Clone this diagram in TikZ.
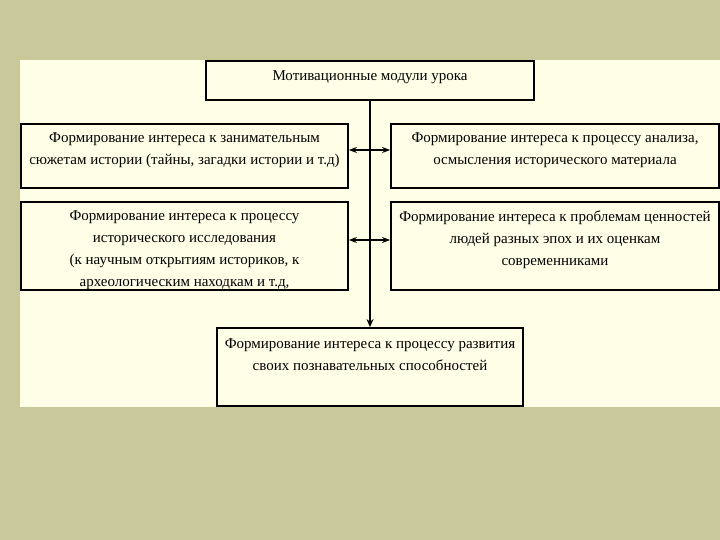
\documentclass[tikz,border=0pt]{standalone}
\usepackage{fontspec}
\setmainfont{Liberation Serif}
\usetikzlibrary{arrows.meta}
\definecolor{olive}{RGB}{200,200,155}
\definecolor{cream}{RGB}{255,255,232}
\begin{document}
\begin{tikzpicture}[x=1pt,y=-1pt,
  box/.style={draw=black,line width=1.8pt,fill=cream,inner sep=0pt},
  txt/.style={anchor=north,align=center,inner sep=0pt,font=\fontsize{15}{22}\selectfont},
  conn/.style={line width=1.6pt,-{Stealth[length=8pt,width=7pt]}},
  dconn/.style={line width=1.2pt,{Stealth[length=8pt,width=6pt]}-{Stealth[length=8pt,width=6pt]}}]
\fill[olive] (0,0) rectangle (720,540);
\useasboundingbox (0,0) rectangle (720,540);
\fill[cream] (20,60) rectangle (720,407);
% boxes
\node[box,minimum width=328pt,minimum height=39pt] (T) at (370,80.5) {};
\node[box,minimum width=327pt,minimum height=64pt] (L1) at (184.5,156) {};
\node[box,minimum width=328pt,minimum height=64pt] (R1) at (555,156) {};
\node[box,minimum width=327pt,minimum height=88pt] (L2) at (184.5,246) {};
\node[box,minimum width=328pt,minimum height=88pt] (R2) at (555,246) {};
\node[box,minimum width=306pt,minimum height=78pt] (B) at (370,367) {};
% texts
\node[txt] (tT) at ([yshift=-10pt]T.north) {Мотивационные модули урока};
\node[txt] (tL1) at ([yshift=-9pt]L1.north) {Формирование интереса к занимательным\\сюжетам истории (тайны, загадки истории и т.д)};
\node[txt] (tR1) at ([yshift=-9pt]R1.north) {Формирование интереса к процессу анализа,\\осмысления исторического материала};
\node[txt] (tL2) at ([yshift=-9pt]L2.north) {Формирование интереса к процессу\\исторического исследования\\(к научным открытиям историков, к\\археологическим находкам и т.д,};
\node[txt] (tR2) at ([yshift=-9pt]R2.north) {Формирование интереса к проблемам ценностей\\людей разных эпох и их оценкам\\современниками};
\node[txt] (tB) at ([yshift=-11pt]B.north) {Формирование интереса к процессу развития\\своих познавательных способностей};
% connectors
\draw[conn] (T.south) -- (B.north);
\draw[dconn] ([yshift=6pt]L1.east) -- ([yshift=6pt]R1.west);
\draw[dconn] ([yshift=6pt]L2.east) -- ([yshift=6pt]R2.west);
\end{tikzpicture}
\end{document}
